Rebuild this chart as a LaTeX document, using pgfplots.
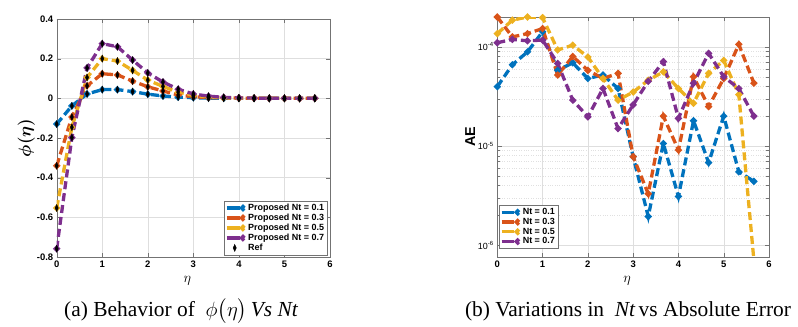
\documentclass[border=0pt]{standalone}
\usepackage{amsmath}
\usepackage{pgfplots}
\usepackage{pgfplotstable}
\usepackage{fontspec}
\setmainfont{Liberation Serif}
\setsansfont{Liberation Sans}
\pgfplotsset{compat=1.18}

\definecolor{mblue}{rgb}{0,0.447,0.741}
\definecolor{mred}{rgb}{0.85,0.325,0.098}
\definecolor{myel}{rgb}{0.929,0.694,0.125}
\definecolor{mpur}{rgb}{0.494,0.184,0.556}

% phi(eta) for Nt = 0.1, 0.3, 0.5, 0.7
\pgfplotstableread{
x       b       r       y       p
0      -0.130  -0.340  -0.553  -0.758
0.3333 -0.038  -0.094  -0.146  -0.198
0.6667  0.022   0.063   0.105   0.153
1       0.044   0.124   0.200   0.276
1.3333  0.044   0.118   0.188   0.260
1.6667  0.034   0.087   0.141   0.193
2       0.021   0.058   0.092   0.128
2.3333  0.012   0.037   0.060   0.082
2.6667  0.006   0.017   0.031   0.046
3       0.003   0.008   0.015   0.022
3.3333  0.001   0.004   0.007   0.011
3.6667  0.000   0.002   0.003   0.005
4       0.000   0.001   0.001   0.002
4.3333  0.000   0.000   0.001   0.001
4.6667  0.000   0.000   0.000   0.000
5       0.000   0.000   0.000   0.000
5.3333  0.000   0.000   0.000   0.000
5.6667  0.000   0.000   0.000   0.000
}\phidata

% absolute error
\pgfplotstableread{
x       b        r        y        p
0       3.97e-5  2.00e-4  1.36e-4  1.10e-4
0.3333  6.6e-5   1.26e-4  1.86e-4  1.19e-4
0.6667  8.9e-5   1.36e-4  2.00e-4  1.15e-4
1       1.42e-4  1.53e-4  1.97e-4  1.17e-4
1.3333  5.8e-5   5.2e-5   9.3e-5   6.8e-5
1.6667  6.9e-5   8.0e-5   1.04e-4  2.9e-5
2       4.8e-5   5.8e-5   7.9e-5   1.97e-5
2.3333  5.2e-5   4.8e-5   4.8e-5   3.8e-5
2.6667  3.8e-5   5.4e-5   2.9e-5   1.5e-5
3       7.8e-6   7.8e-6   3.5e-5   2.6e-5
3.3333  1.95e-6  3.3e-6   4.6e-5   4.5e-5
3.6667  1.06e-5  2.0e-5   5.6e-5   7.1e-5
4       3.1e-6   9.1e-6   3.8e-5   1.9e-5
4.3333  1.8e-5   5.0e-5   2.7e-5   4.3e-5
4.6667  6.8e-6   2.5e-5   5.4e-5   8.6e-5
5       2.0e-5   4.8e-5   7.3e-5   5.0e-5
5.3333  5.5e-6   1.06e-4  3.3e-5   3.8e-5
5.6667  4.4e-6   4.3e-5   7.0e-7   2.0e-5
}\aedata

\pgfplotsset{
  mat/.style={
    scale only axis,
    axis line style={black!55},
    tick style={black!55},
    tick align=inside,
    grid=major,
    major grid style={black!13},
    tick label style={font=\sffamily\bfseries\fontsize{9.5}{10}\selectfont},
    /pgf/number format/assume math mode=true,
    xmin=0, xmax=6, xtick={0,1,...,6},
    legend cell align=left,
    legend style={font=\sffamily\bfseries\fontsize{9}{10}\selectfont,
      draw=black!55, inner sep=1pt, row sep=-2pt},
    legend image code/.code={
      \draw[##1, solid] (0mm,0mm) -- (4.5mm,0mm);
      \fill[##1] (5.7mm,0mm) circle (1.5pt);
    },
  },
  ser/.style={#1, line width=3.3bp, dash pattern=on 8bp off 4bp,
    mark=*, mark size=1.5bp, mark options={solid}},
  refm/.style={only marks, mark=diamond*, mark size=3.5bp, black,
    mark options={xscale=0.6}},
  refleg/.style={legend image code/.code={
      \draw[##1] plot coordinates {(2.8mm,0mm)};}},
}

\begin{document}
\begin{tikzpicture}
\useasboundingbox (0,0) rectangle (798bp,327bp);

\begin{axis}[mat,
  at={(56.7bp,70bp)}, anchor=south west,
  width=273.3bp, height=238bp,
  ymin=-0.8, ymax=0.4,
  ytick={-0.8,-0.6,-0.4,-0.2,0,0.2,0.4},
  yticklabel style={/pgf/number format/fixed},
  xlabel={$\eta$}, xlabel style={font=\Large, yshift=-2bp, xshift=-6bp},
  ylabel={$\boldsymbol{\phi(\eta)}$}, ylabel style={font=\LARGE, yshift=-5bp},
  legend style={at={(0.99,0.008)}, anchor=south east},
]
\addplot[ser=mblue] table[x=x,y=b] {\phidata};
\addlegendentry{Proposed Nt = 0.1}
\addplot[ser=mred] table[x=x,y=r] {\phidata};
\addlegendentry{Proposed Nt = 0.3}
\addplot[ser=myel] table[x=x,y=y] {\phidata};
\addlegendentry{Proposed Nt = 0.5}
\addplot[ser=mpur] table[x=x,y=p] {\phidata};
\addlegendentry{Proposed Nt = 0.7}
\addplot[refm, refleg] table[x=x,y=b] {\phidata};
\addlegendentry{Ref}
\addplot[refm, forget plot] table[x=x,y=r] {\phidata};
\addplot[refm, forget plot] table[x=x,y=y] {\phidata};
\addplot[refm, forget plot] table[x=x,y=p] {\phidata};
\end{axis}

\begin{axis}[mat,
  at={(497.3bp,70bp)}, anchor=south west,
  width=271.7bp, height=240bp,
  ymode=log, ymin=7.6e-7, ymax=2.0e-4,
  ytick={1e-6,1e-5,1e-4},
  yticklabels={10\textsuperscript{-6},10\textsuperscript{-5},10\textsuperscript{-4}},
  yticklabel style={font=\sffamily\fontsize{9}{10}\selectfont},
  yminorgrids=true, minor grid style={black!12, dotted},
  xlabel={$\eta$}, xlabel style={font=\Large, yshift=-2bp, xshift=-6bp},
  ylabel={AE}, ylabel style={font=\sffamily\bfseries\Large, yshift=-4bp},
  legend style={at={(0.005,0.035)}, anchor=south west},
]
\addplot[ser=mblue] table[x=x,y=b] {\aedata};
\addlegendentry{Nt = 0.1}
\addplot[ser=mred] table[x=x,y=r] {\aedata};
\addlegendentry{Nt = 0.3}
\addplot[ser=myel] table[x=x,y=y] {\aedata};
\addlegendentry{Nt = 0.5}
\addplot[ser=mpur] table[x=x,y=p] {\aedata};
\addlegendentry{Nt = 0.7}
\end{axis}

\node[font=\fontsize{21.5}{24}\selectfont, anchor=base] at (181bp,10.5bp)
  {(a) Behavior of \ $\phi\big(\eta\big)\,\mathit{Vs}\ \mathit{Nt}$};
\node[font=\fontsize{21.5}{24}\selectfont, anchor=base] at (628bp,10.5bp)
  {(b) Variations in \ $\mathit{Nt}$\,vs Absolute Error};
\end{tikzpicture}
\end{document}
